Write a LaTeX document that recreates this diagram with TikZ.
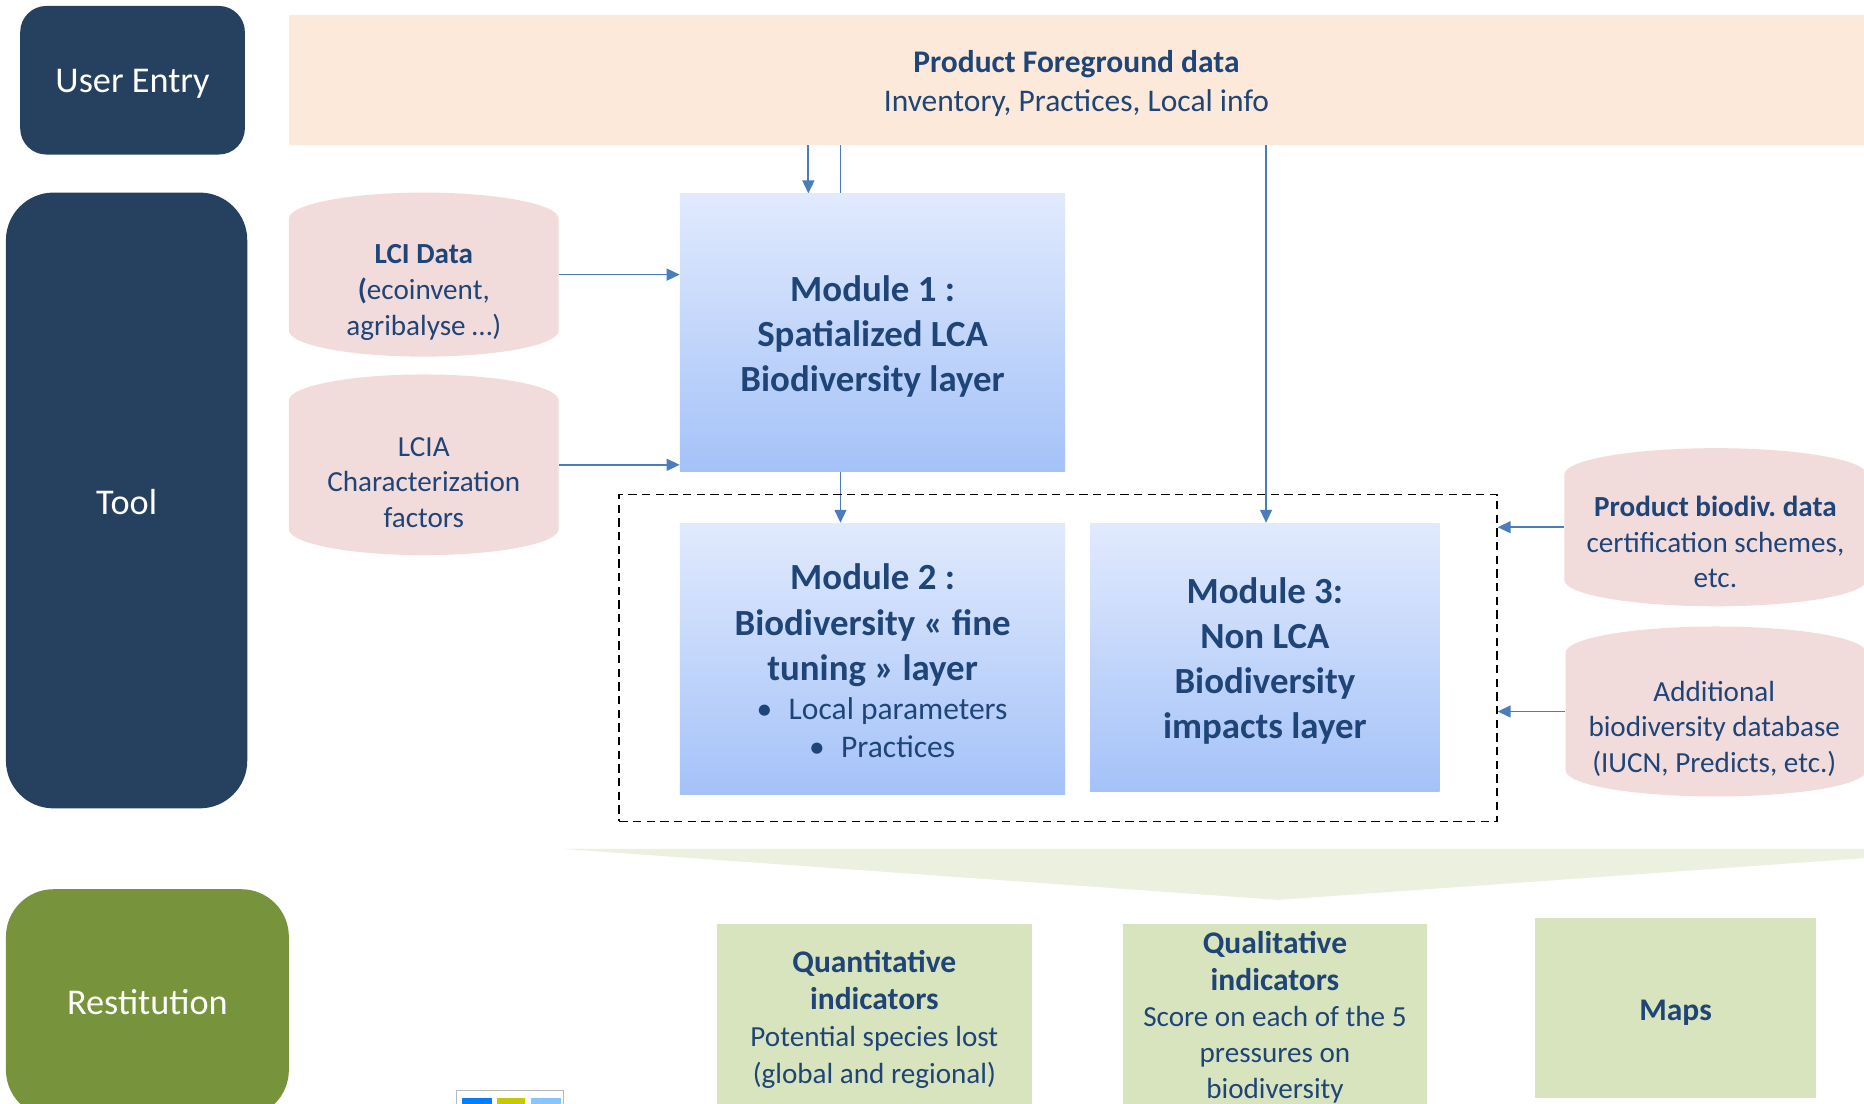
\documentclass[tikz,border=0pt]{standalone}
\usepackage{fontspec}
\setmainfont{Carlito}
\usetikzlibrary{arrows.meta}
\definecolor{navyc}{RGB}{38,64,96}
\definecolor{greenc}{RGB}{119,147,60}
\definecolor{peachc}{RGB}{253,233,217}
\definecolor{pinkc}{RGB}{242,220,219}
\definecolor{txtblue}{RGB}{31,69,120}
\definecolor{gradtop}{RGB}{225,234,253}
\definecolor{gradbot}{RGB}{164,194,248}
\definecolor{greenl}{RGB}{215,228,189}
\definecolor{chevc}{RGB}{235,241,222}
\definecolor{arrowc}{RGB}{74,126,187}
\definecolor{iconblue}{RGB}{0,128,255}
\definecolor{iconyel}{RGB}{200,200,0}
\definecolor{iconlb}{RGB}{136,196,255}
\pgfdeclarelayer{back}
\pgfsetlayers{back,main}
\begin{document}
\frenchspacing
\begin{tikzpicture}[x=1pt,y=1pt,
  catbox/.style={fill=navyc, inner sep=0pt},
  cattxt/.style={text=white, inner sep=0pt, font=\fontsize{30.5}{36}\selectfont},
  modbox/.style={top color=gradtop, bottom color=gradbot, inner sep=0pt},
  modtxt/.style={text=txtblue, align=center, inner sep=0pt, font=\bfseries\fontsize{31}{38}\selectfont},
  cyltxt/.style={text=txtblue, align=center, font=\fontsize{24.5}{30}\selectfont, inner sep=0pt},
  outbox/.style={fill=greenl, inner sep=0pt},
  outtxt/.style={text=txtblue, align=center, inner sep=0pt},
  conn/.style={draw=arrowc, line width=1.5pt, -{Triangle[length=11pt,width=10pt]}},
  dashbox/.style={draw=black, line width=1.6pt, dash pattern=on 7pt off 4.5pt, inner sep=0pt}
]
\useasboundingbox (0,0) rectangle (1568,-928);
\clip (0,0) rectangle (1568,-928);

% category boxes
\node[catbox, rounded corners=22pt, minimum width=189pt, minimum height=125pt] (user) at (111.5,-67.5) {};
\node[cattxt] (usert) at (111.5,-70.5) {User Entry};
\node[catbox, rounded corners=40pt, minimum width=203pt, minimum height=518pt] (tool) at (106.5,-421) {};
\node[cattxt] (toolt) at (106.5,-422) {Tool};
\node[catbox, fill=greenc, rounded corners=40pt, minimum width=238pt, minimum height=192pt] (rest) at (124,-844) {};
\node[cattxt] (restt) at (124,-843) {Restitution};

% product foreground
\node[fill=peachc, inner sep=0pt, minimum width=1325pt, minimum height=109pt] (pf) at (905.5,-67.5) {};
\node[text=txtblue, align=center, inner sep=0pt, font=\fontsize{26.5}{33}\selectfont] (pft) at (905.5,-70.5) {\textbf{Product Foreground data}\\Inventory, Practices, Local info};

% cylinders
\fill[pinkc] (243,-184) arc[start angle=180,end angle=0,x radius=113.5pt,y radius=22pt] -- (470,-278) arc[start angle=0,end angle=-180,x radius=113.5pt,y radius=22pt] -- cycle;
\node[minimum width=227pt, minimum height=138pt, inner sep=0pt] (lci) at (356.5,-231) {};
\node[cyltxt] (lcit) at (356.5,-246) {\textbf{LCI Data}\\\textbf{(}ecoinvent,\\agribalyse …)};

\fill[pinkc] (243,-337) arc[start angle=180,end angle=0,x radius=113.5pt,y radius=22pt] -- (470,-445) arc[start angle=0,end angle=-180,x radius=113.5pt,y radius=22pt] -- cycle;
\node[minimum width=227pt, minimum height=152pt, inner sep=0pt] (lcia) at (356.5,-391) {};
\node[cyltxt] (lciat) at (356.5,-406) {LCIA\\Characterization\\factors};

\fill[pinkc] (1316,-399) arc[start angle=180,end angle=0,x radius=127pt,y radius=22pt] -- (1570,-488) arc[start angle=0,end angle=-180,x radius=127pt,y radius=22pt] -- cycle;
\node[minimum width=254pt, minimum height=133pt, inner sep=0pt] (pbio) at (1443,-443.5) {};
\node[cyltxt] (pbiot) at (1443,-456) {\textbf{Product biodiv. data}\\certification schemes,\\etc.};

\fill[pinkc] (1317,-549) arc[start angle=180,end angle=0,x radius=126.5pt,y radius=22pt] -- (1570,-648) arc[start angle=0,end angle=-180,x radius=126.5pt,y radius=22pt] -- cycle;
\node[minimum width=253pt, minimum height=143pt, inner sep=0pt] (addl) at (1443.5,-598.5) {};
\node[cyltxt] (addlt) at (1442,-613) {Additional\\biodiversity database\\(IUCN, Predicts, etc.)};

% modules
\node[modbox, minimum width=324pt, minimum height=234pt] (m1) at (734,-280) {};
\node[modtxt] (m1t) at (734,-283) {Module 1 :\\Spatialized LCA\\Biodiversity layer};
\node[modbox, minimum width=324pt, minimum height=228pt] (m2) at (734,-554) {};
\node[modtxt] (m2t) at (734,-526) {Module 2 :\\Biodiversity « fine\\tuning » layer};
\node[text=txtblue, align=center, font=\fontsize{26.5}{32}\selectfont, inner sep=0pt] (m2b) at (742,-612) {\makebox[27pt][l]{•}Local parameters\\\makebox[27pt][l]{•}Practices};
\node[modbox, minimum width=294pt, minimum height=226pt] (m3) at (1064,-553) {};
\node[modtxt] (m3t) at (1064,-556) {Module 3:\\Non LCA\\Biodiversity\\impacts layer};

\node[dashbox, minimum width=738pt, minimum height=275pt] (dash) at (890,-553.5) {};

% chevron
\fill[chevc] (472,-714) -- (1678,-714) -- (1075,-757) -- cycle;

% outputs
\node[outbox, minimum width=265pt, minimum height=157pt] (quant) at (735.5,-855.5) {};
\node[outtxt, font=\fontsize{24.5}{31}\selectfont] (quantt) at (735.5,-857.5) {{\bfseries\fontsize{26.5}{32}\selectfont Quantitative}\\{\bfseries\fontsize{26.5}{32}\selectfont indicators}\\Potential species lost\\(global and regional)};
\node[outbox, minimum width=255pt, minimum height=154pt] (qual) at (1072.5,-854) {};
\node[outtxt, font=\fontsize{24.5}{30.5}\selectfont] (qualt) at (1072.5,-856) {{\bfseries\fontsize{26.5}{32}\selectfont Qualitative}\\{\bfseries\fontsize{26.5}{32}\selectfont indicators}\\Score on each of the 5\\pressures on\\biodiversity};
\node[outbox, minimum width=237pt, minimum height=152pt] (maps) at (1409.5,-848) {};
\node[outtxt, font=\bfseries\fontsize{26.5}{32}\selectfont] (mapst) at (1409.5,-852) {Maps};

% small icon
\draw[gray!55, line width=1pt, fill=white] (384,-917) rectangle (474,-945);
\fill[iconblue] (389,-924) rectangle (414,-945);
\fill[iconyel] (418,-924) rectangle (442,-945);
\fill[iconlb] (447,-924) rectangle (472,-945);

% connectors
\coordinate (x680) at (680,0);
\coordinate (x707) at (707,0);
\coordinate (x1065) at (1065,0);
\begin{pgfonlayer}{back}
\draw[conn] (pf.south -| x680) -- (m1.north -| x680);
\draw[conn] (pf.south -| x707) -- (m2.north -| x707);
\draw[conn] (pf.south -| x1065) -- (m3.north -| x1065);
\draw[conn] (lci.east) -- (lci.east -| m1.west);
\draw[conn] (lcia.east) -- (lcia.east -| m1.west);
\draw[conn] (pbio.west) -- (pbio.west -| dash.east);
\draw[conn] (addl.west) -- (addl.west -| dash.east);
\end{pgfonlayer}
\end{tikzpicture}
\end{document}
